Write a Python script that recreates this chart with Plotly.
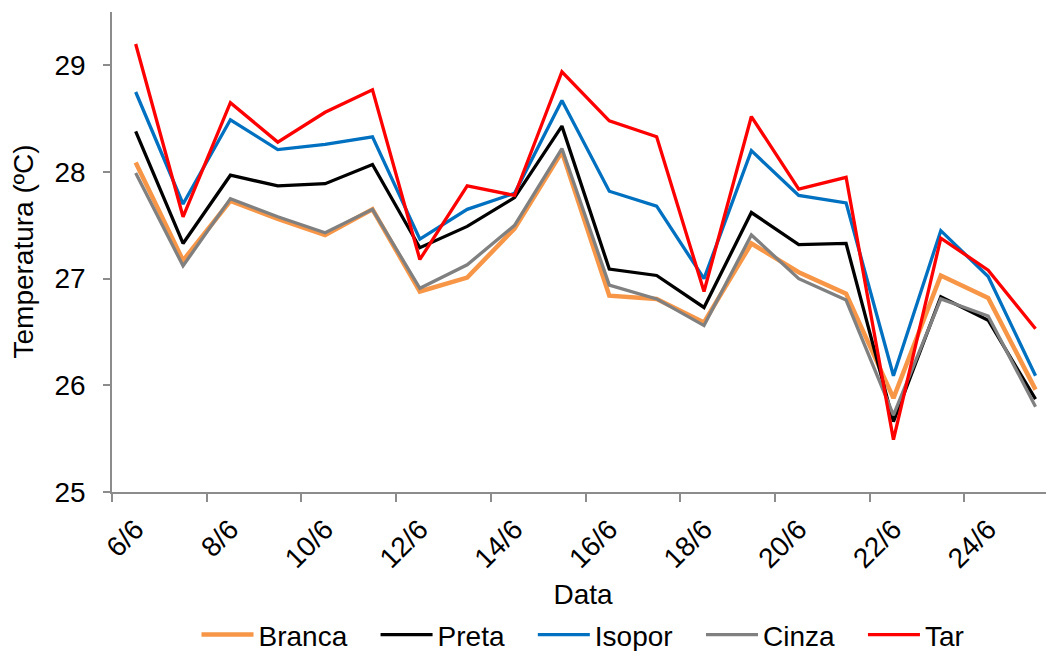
import plotly.graph_objects as go

days = ["6/6", "7/6", "8/6", "9/6", "10/6", "11/6", "12/6", "13/6", "14/6", "15/6",
        "16/6", "17/6", "18/6", "19/6", "20/6", "21/6", "22/6", "23/6", "24/6", "25/6"]

branca = [28.09, 27.17, 27.73, 27.56, 27.41, 27.65, 26.88, 27.01, 27.47, 28.19,
          26.84, 26.81, 26.59, 27.33, 27.06, 26.86, 25.88, 27.03, 26.82, 25.96]
preta = [28.38, 27.33, 27.97, 27.87, 27.89, 28.07, 27.29, 27.49, 27.76, 28.43,
         27.09, 27.03, 26.73, 27.62, 27.32, 27.33, 25.66, 26.83, 26.61, 25.87]
isopor = [28.75, 27.70, 28.49, 28.21, 28.26, 28.33, 27.37, 27.65, 27.80, 28.67,
          27.82, 27.68, 27.00, 28.20, 27.78, 27.71, 26.09, 27.45, 27.02, 26.09]
cinza = [27.99, 27.12, 27.75, 27.58, 27.43, 27.65, 26.91, 27.13, 27.50, 28.22,
         26.94, 26.81, 26.56, 27.41, 27.00, 26.80, 25.72, 26.81, 26.65, 25.80]
tar = [29.20, 27.58, 28.65, 28.28, 28.56, 28.77, 27.18, 27.87, 27.78, 28.94,
       28.48, 28.33, 26.88, 28.52, 27.84, 27.95, 25.49, 27.38, 27.08, 26.53]

series = [
    ("Branca", branca, "#F79646", 4.5),
    ("Preta", preta, "#000000", 3.3),
    ("Isopor", isopor, "#0070C0", 3.3),
    ("Cinza", cinza, "#808080", 3.3),
    ("Tar", tar, "#FF0000", 3.3),
]

FONT = "Liberation Sans, Arial, sans-serif"
AXIS_GRAY = "#8c8c8c"
FS = 28
PAD = "\u00a0" * 3  # extra room between legend entries

x = list(range(len(days)))

fig = go.Figure()
for i, (name, vals, color, w) in enumerate(series):
    label = name if i == len(series) - 1 else name + PAD
    fig.add_trace(go.Scatter(
        x=x, y=vals, name=label, mode="lines",
        line=dict(color=color, width=w),
    ))

# y title as annotation so it sits closer to the page edge like the original
fig.add_annotation(
    text="Temperatura (ºC)", xref="paper", yref="paper",
    x=-0.095, y=0.5, xanchor="center", yanchor="middle",
    textangle=-90, showarrow=False, font=dict(size=FS),
)

# labels every other day, tick marks on category boundaries (Excel style)
label_idx = x[::2]
# page body has an 8px margin, so the figure is 8px smaller than the window
fig.update_layout(
    width=1046, height=643,
    margin=dict(t=4, b=159, l=104, r=0),
    paper_bgcolor="white",
    plot_bgcolor="white",
    font=dict(family=FONT, size=FS, color="black"),
    showlegend=True,
    legend=dict(
        orientation="h", x=0.5, xanchor="center",
        yref="container", y=0.025, yanchor="middle",
        font=dict(size=FS), itemwidth=52,
    ),
    xaxis=dict(
        range=[-0.5, 19.39],
        tickmode="array", tickvals=label_idx,
        ticktext=[days[i] for i in label_idx],
        tickangle=-45,
        ticks="outside", ticklen=8, tickcolor="rgba(0,0,0,0)",
        minor=dict(ticks="outside", ticklen=8, tickcolor=AXIS_GRAY, tickwidth=1.5,
                   tickmode="array", tickvals=[i - 0.5 for i in label_idx]),
        showline=True, linecolor=AXIS_GRAY, linewidth=1.5,
        showgrid=False, zeroline=False, automargin=False,
        title=dict(text="Data", standoff=12, font=dict(size=FS)),
    ),
    yaxis=dict(
        range=[25, 29.5], dtick=1, tick0=25,
        ticks="outside", ticklen=7, tickcolor=AXIS_GRAY, tickwidth=1.5,
        showline=True, linecolor=AXIS_GRAY, linewidth=1.5,
        showgrid=False, zeroline=False, automargin=False,
        ticklabelstandoff=12,
    ),
)

fig.write_html("out.html")
